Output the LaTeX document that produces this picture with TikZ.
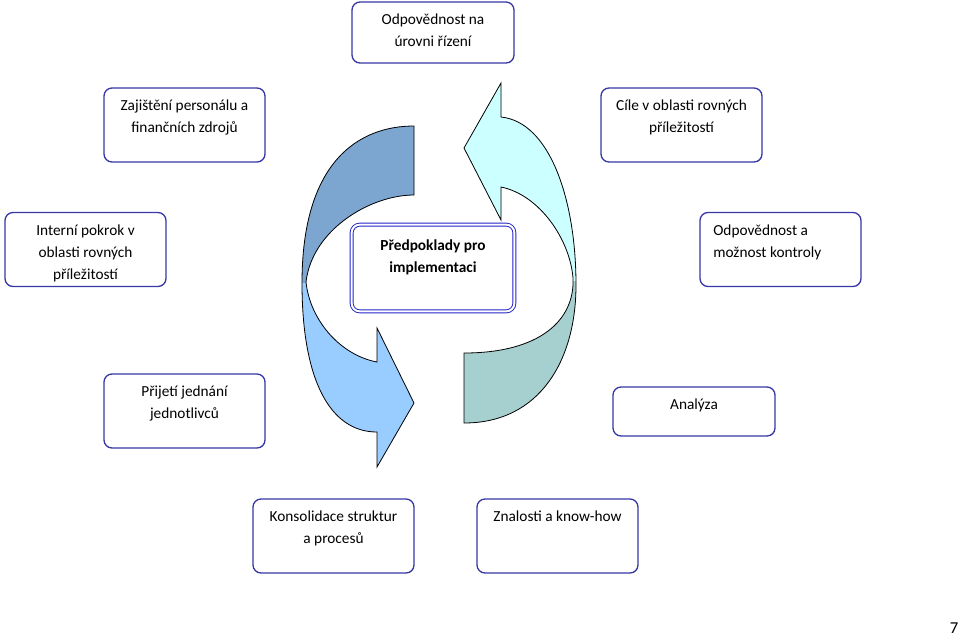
\documentclass[tikz,border=0pt]{standalone}
\usepackage{fontspec}
\setmainfont{Carlito}
\usepackage{tikz}
\usetikzlibrary{shapes,arrows}

\definecolor{boxblue}{RGB}{55,55,165}
\definecolor{ringblue}{RGB}{35,35,200}
\definecolor{cycdark}{RGB}{124,165,207}
\definecolor{cyclight}{RGB}{153,204,255}
\definecolor{cyccyan}{RGB}{204,255,255}
\definecolor{cycteal}{RGB}{166,207,207}

\tikzstyle{tbox} = [draw=boxblue, line width=1pt, rounded corners=6pt, inner sep=0pt, fill=white]
\tikzstyle{cycline} = [draw=black, line width=0.6pt]

% text inside the boxes, set from the top
\newcommand{\boxtext}[3]{\parbox[c][#2][t]{#1}{\vspace*{5.5pt}\centering\strut #3}}

% the two circular arrows
\newcommand{\leftcycle}{(414,126) .. controls (360,126) and (302,160) .. (302,283)
  .. controls (302,380) and (330,432) .. (377,432) -- (377,467) -- (414,403) -- (377,328)
  -- (377,362) .. controls (340,355) and (310,320) .. (306,282)
  .. controls (312,230) and (370,195) .. (414,195) -- cycle}
\newcommand{\rightcycle}{(464,423) .. controls (540,423) and (576,360) .. (576,285)
  .. controls (576,200) and (550,122) .. (501,117) -- (501,83) -- (464,148) -- (501,220)
  -- (501,187) .. controls (540,195) and (570,240) .. (573,278)
  .. controls (575,320) and (540,353) .. (464,353) -- cycle}

\begin{document}
\begin{tikzpicture}[x=0.75pt, y=-0.75pt, font=\fontsize{11.5}{16.5}\selectfont]

	\useasboundingbox (0,0) rectangle (960,637);

	% arrows
	\fill[cyclight] \leftcycle;
	\begin{scope}
		\clip (0,0) rectangle (440,282);
		\fill[cycdark] \leftcycle;
	\end{scope}
	\draw[cycline] \leftcycle;

	\fill[cycteal] \rightcycle;
	\begin{scope}
		\clip (440,0) rectangle (960,280);
		\fill[cyccyan] \rightcycle;
	\end{scope}
	\draw[cycline] \rightcycle;

	% nodes
	\node[tbox] (rizeni) at (433,32.5) {\boxtext{121.5pt}{45.75pt}{Odpovědnost na\\úrovni řízení}};
	\node[tbox] (zdroje) at (184.5,125) {\boxtext{120.75pt}{55.5pt}{Zajištění personálu a\\finančních zdrojů}};
	\node[tbox] (cile) at (681.5,125) {\boxtext{120.75pt}{55.5pt}{Cíle v oblasti rovných\\příležitostí}};
	\node[tbox] (pokrok) at (85.5,249.5) {\boxtext{120.75pt}{55.5pt}{Interní pokrok v\\oblasti rovných\\příležitostí}};
	\node[tbox, draw=ringblue, line width=0.7pt, double=white, double distance=1.5pt] (predpoklady) at (433,268)
		{\parbox[c][65pt][t]{122pt}{\vspace*{8pt}\centering\strut\textbf{Předpoklady pro\\implementaci}}};
	\node[tbox] (kontrola) at (780.5,249.5) {\parbox[c][55.5pt][t]{120.75pt}{\vspace*{5.5pt}\raggedright\leftskip=10pt\strut Odpovědnost a\\možnost kontroly}};
	\node[tbox] (jednani) at (184.5,411) {\boxtext{120.75pt}{55.5pt}{Přijetí jednání\\jednotlivců}};
	\node[tbox] (analyza) at (694,411.5) {\boxtext{121.5pt}{36.75pt}{Analýza}};
	\node[tbox] (procesy) at (333.5,536) {\boxtext{120.75pt}{55.5pt}{Konsolidace struktur\\a procesů}};
	\node[tbox] (znalosti) at (557.5,536) {\boxtext{120.75pt}{55.5pt}{Znalosti a know-how}};

	\node[font=\fontsize{12.5}{15}\selectfont, inner sep=1pt] (pagenum) at (954,628) {7};

\end{tikzpicture}
\end{document}
